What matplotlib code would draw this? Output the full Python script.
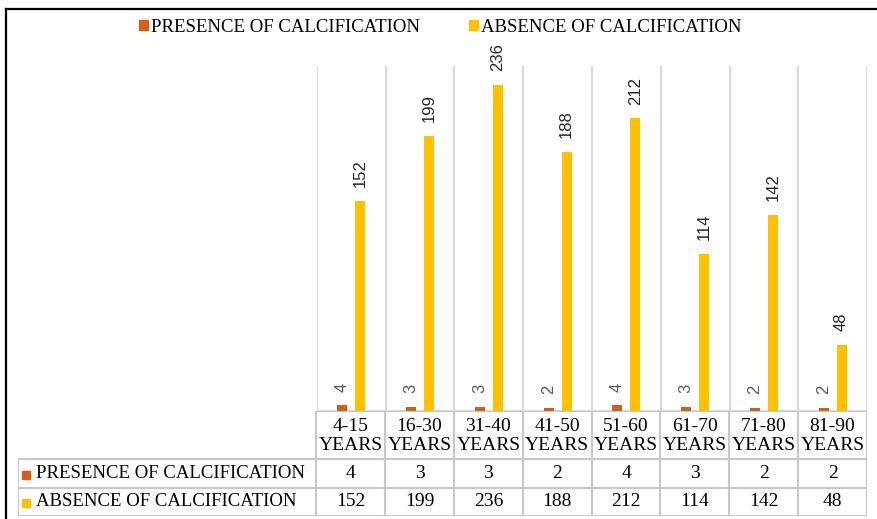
import numpy as np
import matplotlib
matplotlib.use("Agg")
import matplotlib.pyplot as plt
from matplotlib.lines import Line2D
from matplotlib.patches import Rectangle
from matplotlib.font_manager import FontProperties

age_groups = ["4-15\nYEARS", "16-30\nYEARS", "31-40\nYEARS", "41-50\nYEARS",
              "51-60\nYEARS", "61-70\nYEARS", "71-80\nYEARS", "81-90\nYEARS"]
presence = [4, 3, 3, 2, 4, 3, 2, 2]
absence = [152, 199, 236, 188, 212, 114, 142, 48]
series_names = ["PRESENCE OF CALCIFICATION", "ABSENCE OF CALCIFICATION"]
title = "Distribution of subjects as calcifications present and absence with their age groups"

ORANGE = "#D2601A"
YELLOW = "#FFC000"
GRID = "#D9D9D9"
TLINE = "#C8C8C8"
SERIF = ["Liberation Serif", "DejaVu Serif"]
SANS = ["Liberation Sans", "DejaVu Sans"]

W, H = 878, 519
fig = plt.figure(figsize=(W / 100, H / 100), dpi=100)

def px(x0, y0, x1, y1):
    # pixel box (top-left origin) -> figure fraction rect
    return [x0 / W, 1 - y1 / H, (x1 - x0) / W, (y1 - y0) / H]

# outer black frame (top and left sides visible)
fig.add_artist(Line2D([6 / W, 6 / W], [0, 1 - 9 / H], color="black", lw=1.6))
fig.add_artist(Line2D([6 / W, 1], [1 - 9 / H, 1 - 9 / H], color="black", lw=1.6))

# title sits above the page edge, only its descenders show (as in the source)
fig.text(0.46, 1.0 + 7 / H, title, ha="center", va="baseline", fontsize=16,
         fontweight="bold", family=SERIF, color="black")

# --- bar chart ---
n = len(age_groups)
x = np.arange(n) + 0.5
off, bw = 0.13, 0.145
ax = fig.add_axes(px(317, 66, 867, 411))
ax.bar(x - off, presence, bw, color=ORANGE, zorder=3)
ax.bar(x + off, absence, bw, color=YELLOW, zorder=3)
for xi, v in zip(x - off, presence):
    ax.annotate(str(v), (xi, v), xytext=(0, 10), textcoords="offset points",
                rotation=90, ha="center", va="bottom", fontsize=12,
                family=SANS, color="#595959")
for xi, v in zip(x + off, absence):
    ax.annotate(str(v), (xi, v), xytext=(0, 10), textcoords="offset points",
                rotation=90, ha="center", va="bottom", fontsize=12,
                family=SANS, color="#262626")
ax.set_xlim(0, n)
ax.set_ylim(0, 250)
ax.set_xticks(np.arange(n + 1))
ax.set_yticks([])
ax.tick_params(axis="x", length=0, labelbottom=False)
ax.grid(axis="x", color=GRID, lw=1.5, zorder=0)
for s in ax.spines.values():
    s.set_visible(False)
ax.axhline(0, color=GRID, lw=1.5, zorder=2)

# --- data table ---
lab_w = (317 - 18) / 69.0
tax = fig.add_axes(px(18, 411, 867, 516))
tax.set_xlim(-lab_w, n)
tax.set_ylim(105, 0)
tax.axis("off")
rows = [0, 48, 77, 105]
for i in range(n + 1):
    tax.plot([i, i], [0, 105], color=TLINE, lw=1.5, solid_capstyle="butt")
tax.plot([-lab_w, -lab_w], [rows[1], rows[3]], color=TLINE, lw=1.5)
for r in rows[1:]:
    tax.plot([-lab_w, n], [r, r], color=TLINE, lw=1.5)
tax.plot([0, n], [0, 0], color=TLINE, lw=1.5)

for i, lab in enumerate(age_groups):
    tax.text(i + 0.5, rows[1] / 2 + 1, lab, ha="center", va="center",
             fontsize=14, family=SERIF, linespacing=1.08, color="black")
for (r0, r1), name, vals, col in zip([(rows[1], rows[2]), (rows[2], rows[3])],
                                     series_names, [presence, absence],
                                     [ORANGE, YELLOW]):
    yc = (r0 + r1) / 2
    tax.plot(-lab_w + 0.12, yc + 1, marker="s", ms=6, color=col, ls="none")
    tax.text(-lab_w + 0.26, yc, name, ha="left", va="center", fontsize=13.5,
             family=SERIF, color="black")
    for i, v in enumerate(vals):
        tax.text(i + 0.5, yc, str(v), ha="center", va="center", fontsize=14,
                 family=SERIF, color="black")

# --- legend ---
handles = [Rectangle((0, 0), 1, 1, color=ORANGE), Rectangle((0, 0), 1, 1, color=YELLOW)]
fig.legend(handles, series_names, loc="center", bbox_to_anchor=(440 / W, 1 - 27 / H),
           ncol=2, frameon=False, handlelength=0.5, handleheight=0.5,
           handletextpad=0.15, columnspacing=2.6,
           prop=FontProperties(family="Liberation Serif", size=13.5))

fig.savefig("out.png", dpi=100)
